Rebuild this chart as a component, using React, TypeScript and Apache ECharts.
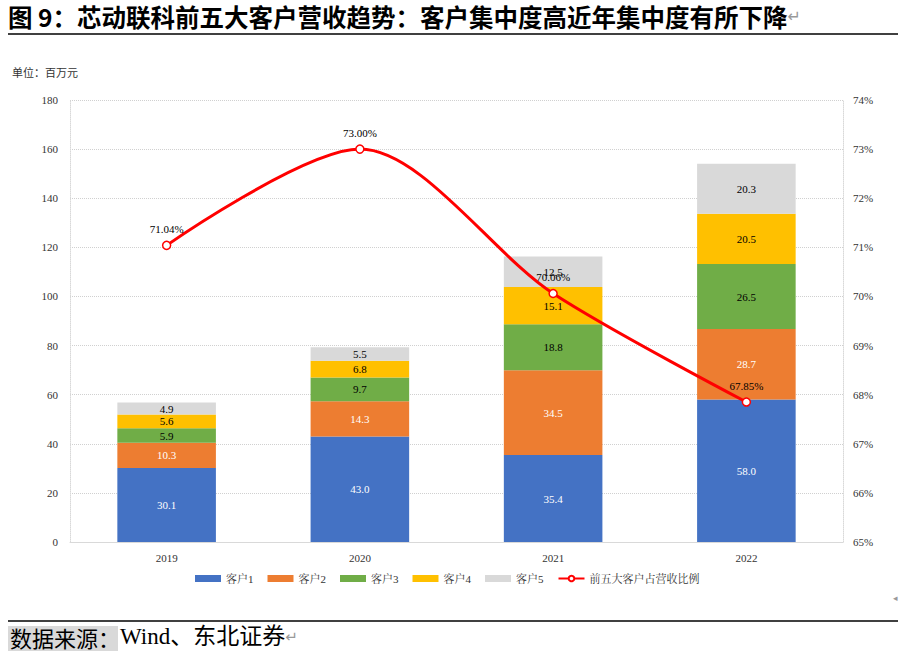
import React, { useEffect, useRef } from "react";
import * as echarts from "echarts";

const categories = ["2019", "2020", "2021", "2022"];
const customer1 = [30.1, 43.0, 35.4, 58.0];
const customer2 = [10.3, 14.3, 34.5, 28.7];
const customer3 = [5.9, 9.7, 18.8, 26.5];
const customer4 = [5.6, 6.8, 15.1, 20.5];
const customer5 = [4.9, 5.5, 12.5, 20.3];
const top5Ratio = [71.04, 73.0, 70.06, 67.85];
const seriesNames = ["客户1", "客户2", "客户3", "客户4", "客户5"];
const lineName = "前五大客户占营收比例";

const SERIF = "'Liberation Serif', 'Noto Serif CJK SC', 'Noto Sans CJK SC', serif";

export default function App() {
  const ref = useRef<HTMLDivElement>(null);
  useEffect(() => {
    document.body.style.margin = "0";
    const chart = echarts.init(ref.current!, null, { renderer: "svg" });
    const colors = ["#4472C4", "#ED7D31", "#70AD47", "#FFC000", "#D9D9D9"];
    const labelColors = ["#FFFFFF", "#FFFFFF", "#000000", "#000000", "#000000"];
    const data = [customer1, customer2, customer3, customer4, customer5];
    const barSeries = data.map((d, i) => ({
      name: seriesNames[i],
      type: "bar",
      stack: "total",
      barWidth: "51%",
      data: d,
      itemStyle: { color: colors[i] },
      label: {
        show: true,
        position: "inside",
        color: labelColors[i],
        fontFamily: SERIF,
        fontSize: 11,
        formatter: (p: any) => Number(p.value).toFixed(1),
      },
    }));
    chart.setOption({
      animation: false,
      textStyle: { fontFamily: SERIF },
      grid: { left: 70, right: 57, top: 100, bottom: 115 },
      legend: {
        bottom: 68,
        left: 190,
        itemWidth: 26,
        itemHeight: 7,
        itemGap: 14,
        textStyle: { fontFamily: SERIF, fontSize: 11, color: "#333" },
        data: [
          ...seriesNames.map((n) => ({ name: n, icon: "rect" })),
          { name: lineName },
        ],
      },
      xAxis: {
        type: "category",
        data: categories,
        axisTick: { show: false },
        axisLine: { lineStyle: { color: "#D9D9D9", width: 1 } },
        axisLabel: { color: "#333", fontSize: 11, margin: 10, fontFamily: SERIF },
      },
      yAxis: [
        {
          type: "value",
          min: 0,
          max: 180,
          interval: 20,
          axisLine: { show: true, lineStyle: { color: "#D9D9D9", type: "dotted" } },
          axisTick: { show: false },
          axisLabel: { color: "#333", fontSize: 11, margin: 12, fontFamily: SERIF },
          splitLine: { lineStyle: { color: "#D0D0D0", type: "dotted" } },
        },
        {
          type: "value",
          min: 65,
          max: 74,
          interval: 1,
          position: "right",
          axisLine: { show: true, lineStyle: { color: "#D9D9D9", type: "dotted" } },
          axisTick: { show: false },
          axisLabel: {
            color: "#333",
            fontSize: 11,
            margin: 10,
            fontFamily: SERIF,
            formatter: (v: number) => v + "%",
          },
          splitLine: { show: false },
        },
      ],
      series: [
        ...barSeries,
        {
          name: lineName,
          type: "line",
          yAxisIndex: 1,
          smooth: 0.3,
          data: top5Ratio,
          symbol: "circle",
          symbolSize: 8,
          lineStyle: { color: "#FF0000", width: 3 },
          itemStyle: { color: "#FFFFFF", borderColor: "#FF0000", borderWidth: 1.5 },
          label: {
            show: true,
            position: "top",
            distance: 6,
            color: "#000",
            fontFamily: SERIF,
            fontSize: 11,
            formatter: (p: any) => Number(p.value).toFixed(2) + "%",
          },
          z: 5,
        },
      ],
      graphic: [
        {
          type: "text",
          left: 8,
          top: 4,
          style: {
            text: "{a|图 9：芯动联科前五大客户营收趋势：客户集中度高近年集中度有所下降}{b|↵}",
            rich: {
              a: {
                font: "bold 24.5px 'Noto Sans CJK SC', sans-serif",
                fill: "#000",
              },
              b: { font: "16px 'DejaVu Sans'", fill: "#999" },
            },
          },
        },
        {
          type: "line",
          shape: { x1: 8, y1: 34, x2: 898, y2: 34 },
          style: { stroke: "#000", lineWidth: 1.5 },
        },
        {
          type: "text",
          left: 12,
          top: 66,
          style: {
            text: "单位：百万元",
            font: "11px 'Noto Sans CJK SC', sans-serif",
            fill: "#333",
          },
        },
        {
          type: "line",
          shape: { x1: 8, y1: 621, x2: 898, y2: 621 },
          style: { stroke: "#000", lineWidth: 1.5 },
        },
        {
          type: "rect",
          shape: { x: 8, y: 626, width: 110, height: 25 },
          style: { fill: "#D9D9D9" },
        },
        {
          type: "text",
          left: 10,
          top: 625,
          style: {
            text: "{a|数据来源：}{b|Wind、东北证券}{c|↵}",
            rich: {
              a: { font: "22px 'Noto Sans CJK SC', sans-serif", fill: "#000" },
              b: {
                font: "23px 'Liberation Serif', 'Noto Sans CJK SC', serif",
                fill: "#000",
              },
              c: { font: "15px 'DejaVu Sans'", fill: "#999" },
            },
          },
        },
        {
          type: "text",
          left: 893,
          top: 593,
          style: { text: "◂", font: "9px 'DejaVu Sans'", fill: "#999" },
        },
      ],
    });
    return () => chart.dispose();
  }, []);
  return <div ref={ref} style={{ width: 900, height: 657 }} />;
}
